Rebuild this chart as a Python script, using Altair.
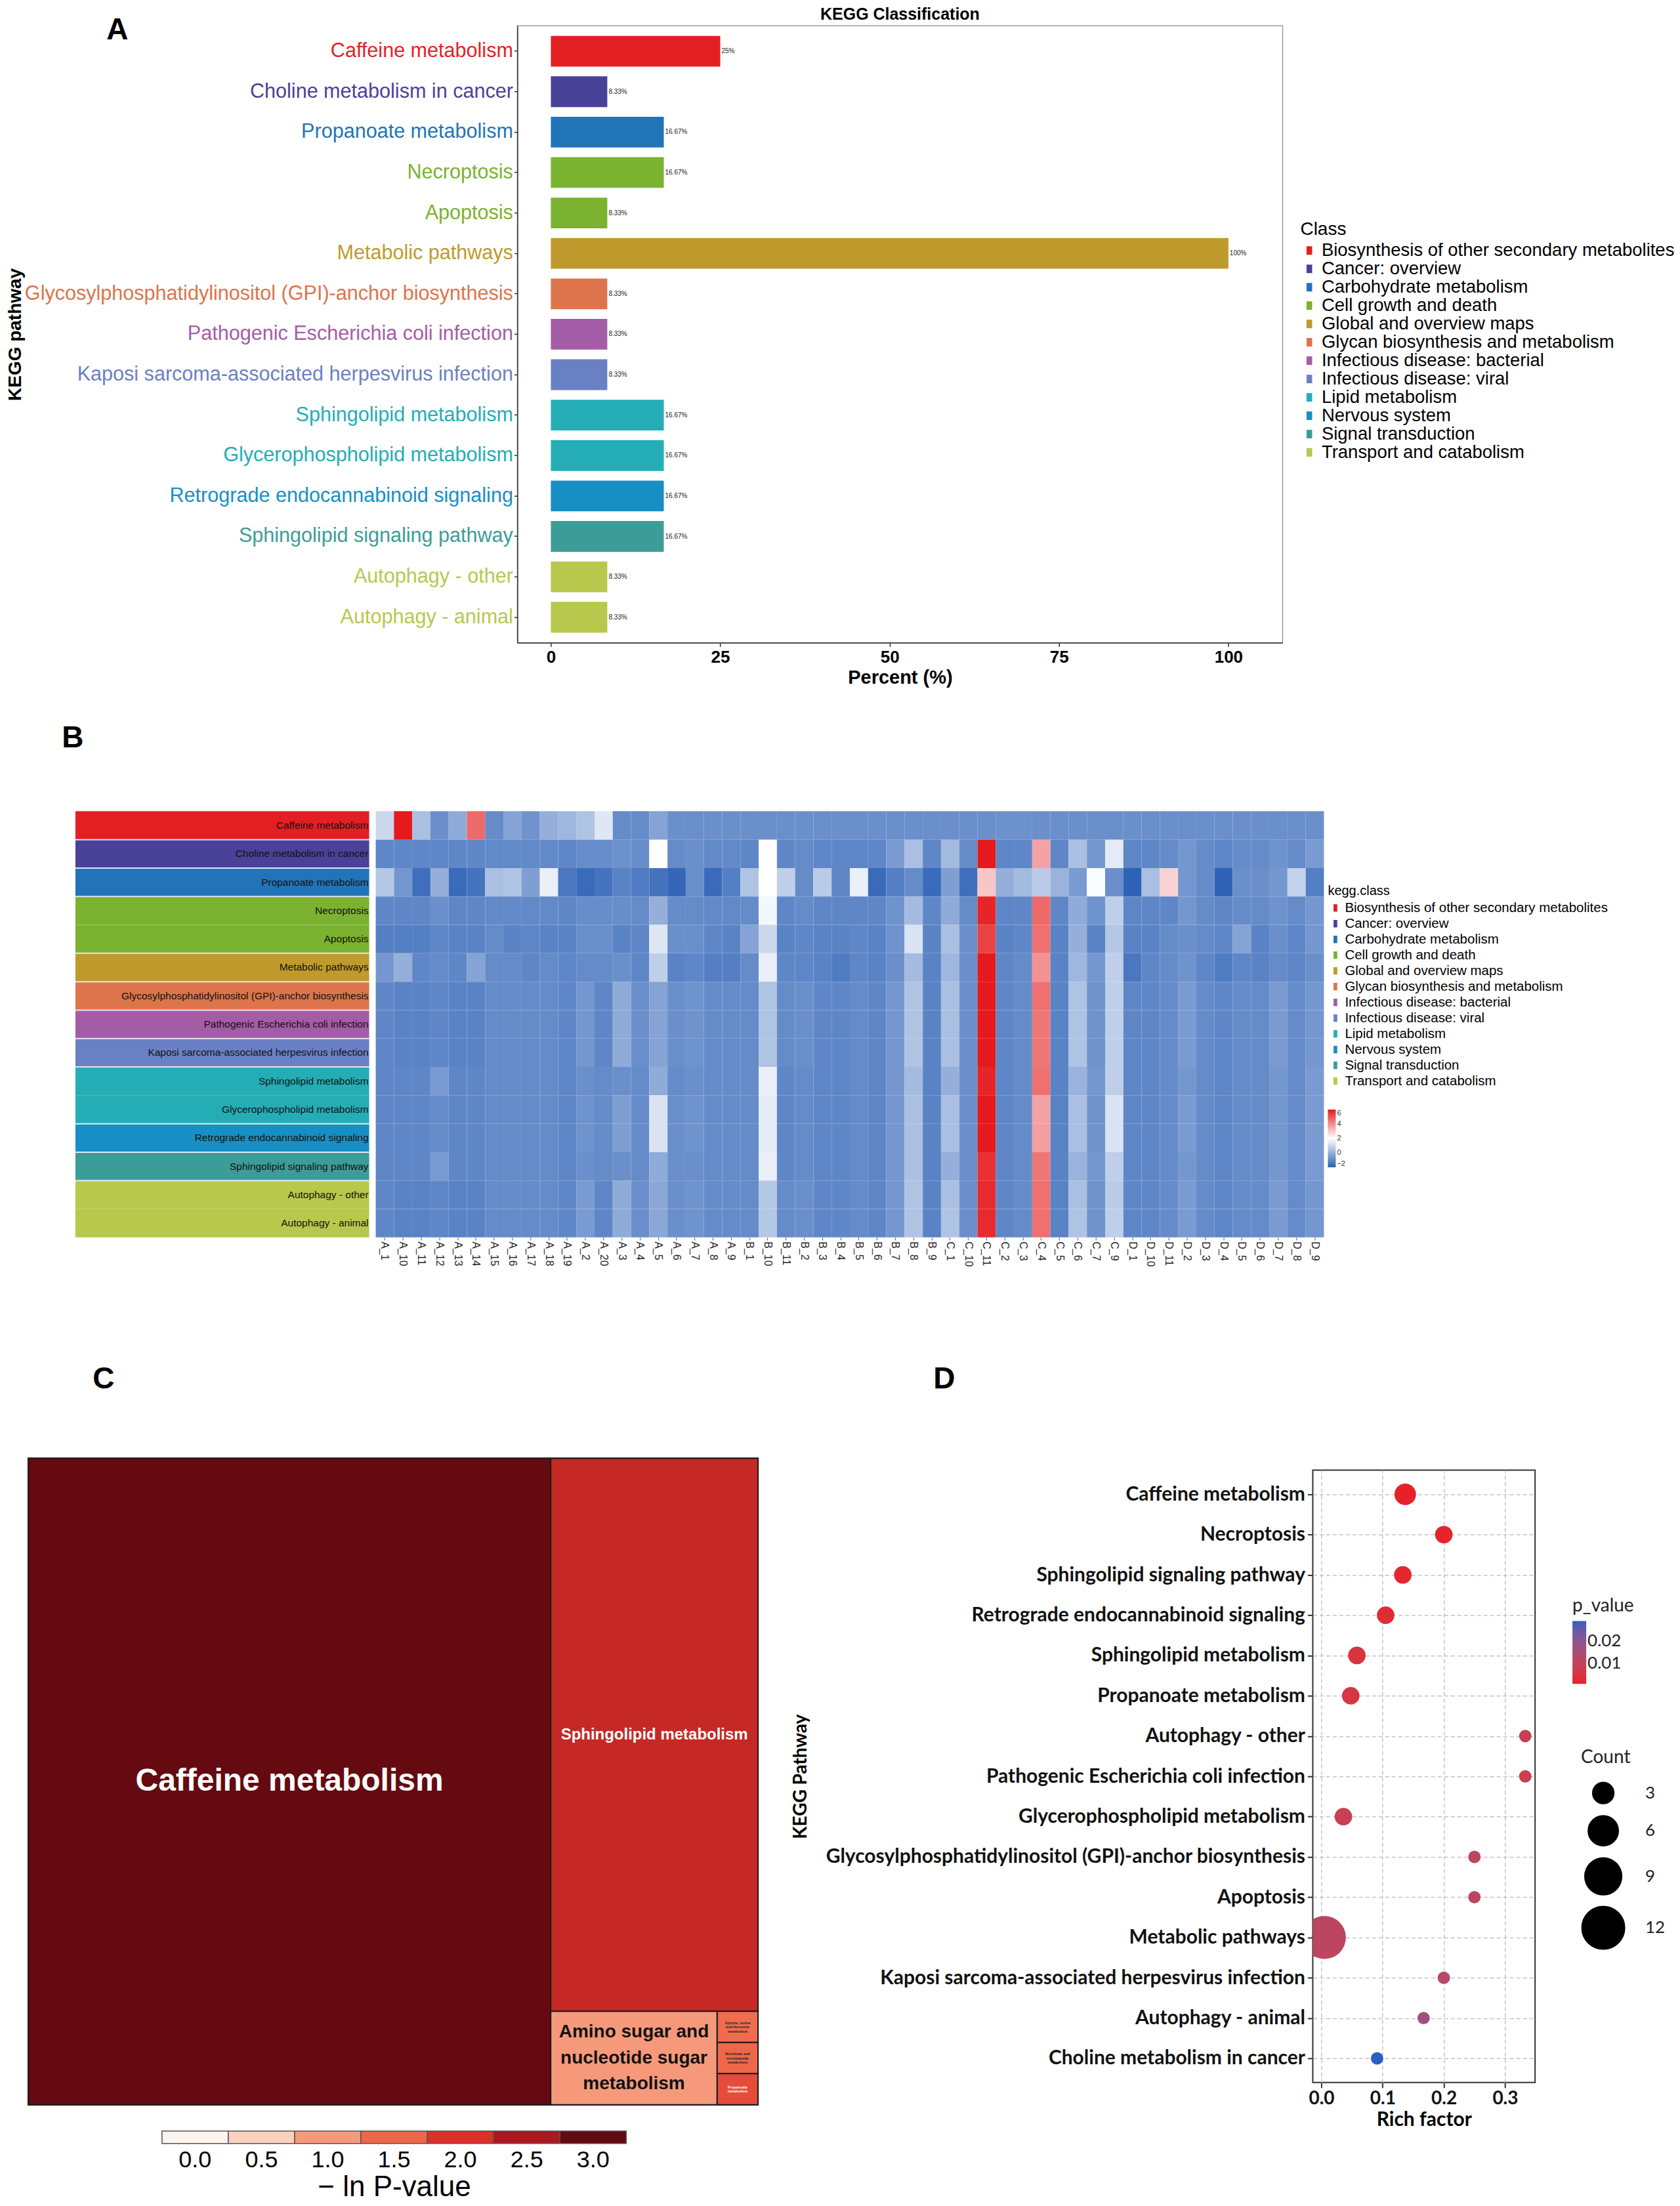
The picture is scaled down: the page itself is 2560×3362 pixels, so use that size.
import altair as alt
import pandas as pd

FONT = "Liberation Sans"
FONT_D = "Lato"

# ---------------- shared pathway data ----------------
pathways = [
    "Caffeine metabolism",
    "Choline metabolism in cancer",
    "Propanoate metabolism",
    "Necroptosis",
    "Apoptosis",
    "Metabolic pathways",
    "Glycosylphosphatidylinositol (GPI)-anchor biosynthesis",
    "Pathogenic Escherichia coli infection",
    "Kaposi sarcoma-associated herpesvirus infection",
    "Sphingolipid metabolism",
    "Glycerophospholipid metabolism",
    "Retrograde endocannabinoid signaling",
    "Sphingolipid signaling pathway",
    "Autophagy - other",
    "Autophagy - animal",
]
pathway_class = [
    "Biosynthesis of other secondary metabolites",
    "Cancer: overview",
    "Carbohydrate metabolism",
    "Cell growth and death",
    "Cell growth and death",
    "Global and overview maps",
    "Glycan biosynthesis and metabolism",
    "Infectious disease: bacterial",
    "Infectious disease: viral",
    "Lipid metabolism",
    "Lipid metabolism",
    "Nervous system",
    "Signal transduction",
    "Transport and catabolism",
    "Transport and catabolism",
]
classes = [
    "Biosynthesis of other secondary metabolites",
    "Cancer: overview",
    "Carbohydrate metabolism",
    "Cell growth and death",
    "Global and overview maps",
    "Glycan biosynthesis and metabolism",
    "Infectious disease: bacterial",
    "Infectious disease: viral",
    "Lipid metabolism",
    "Nervous system",
    "Signal transduction",
    "Transport and catabolism",
]
class_colors = ["#e41f23", "#4a4199", "#2274b8", "#7bb230", "#bf9a2c", "#dd744b",
                "#a55ca6", "#6a80c4", "#25adb5", "#178fc4", "#3c9d98", "#b8c84d"]

# ---------------- Panel A data ----------------
percent = [25, 8.33, 16.67, 16.67, 8.33, 100, 8.33, 8.33, 8.33, 16.67, 16.67, 16.67, 16.67, 8.33, 8.33]
percent_text = ["25%", "8.33%", "16.67%", "16.67%", "8.33%", "100%", "8.33%", "8.33%", "8.33%",
                "16.67%", "16.67%", "16.67%", "16.67%", "8.33%", "8.33%"]
a_ticks = [0, 25, 50, 75, 100]

# ---------------- Panel B data ----------------
samples = ["A_1", "A_10", "A_11", "A_12", "A_13", "A_14", "A_15", "A_16", "A_17", "A_18", "A_19",
           "A_2", "A_20", "A_3", "A_4", "A_5", "A_6", "A_7", "A_8", "A_9",
           "B_1", "B_10", "B_11", "B_2", "B_3", "B_4", "B_5", "B_6", "B_7", "B_8", "B_9",
           "C_1", "C_10", "C_11", "C_2", "C_3", "C_4", "C_5", "C_6", "C_7", "C_9",
           "D_1", "D_10", "D_11", "D_2", "D_3", "D_4", "D_5", "D_6", "D_7", "D_8", "D_9"]

hm_caffeine = [1.0, 6.0, 0.4, -0.8, -0.1, 4.6, -0.9, -0.3, -0.7, 0.0, 0.2, 0.5, 1.4, -0.9, -0.9, -0.3, -0.8, -0.8, -0.8, -0.8,
               -0.8, -0.8, -0.8, -0.8, -0.8, -0.8, -0.8, -0.8, -0.8, -0.8, -0.8,
               -0.8, -0.8, -0.8, -0.75, -0.75, -0.8, -0.8, -0.8, -0.8, -0.8,
               -0.8, -0.8, -0.8, -0.8, -0.8, -0.8, -0.8, -0.8, -0.8, -0.8, -0.8]
hm_choline = [-1.0, -1.0, -1.0, -1.0, -1.0, -1.0, -0.95, -0.95, -0.95, -0.95, -1.0, -0.85, -0.85, -0.75, -0.85, 2.0, -0.9, -0.8, -0.95, -0.95,
              -1.0, 2.0, -1.0, -0.9, -1.0, -1.0, -1.0, -1.0, -0.5, 0.4, -1.0,
              0.3, -0.9, 6.0, -1.0, -1.0, 3.6, -1.0, 0.4, -0.6, 1.5,
              -1.0, -1.0, -0.9, -0.6, -0.9, -1.0, -0.9, -0.9, -0.7, -0.9, -0.5]
hm_propanoate = [0.6, -0.6, -1.6, 0.0, -1.7, -1.5, 0.4, 0.5, -0.4, 1.6, -1.4, -1.7, -1.5, -1.1, -1.3, -1.5, -1.8, -0.8, -1.7, -1.2,
                 0.5, 2.0, 0.8, -0.9, 0.7, -1.0, 1.6, -1.7, -1.2, -0.9, -1.7,
                 -0.4, -1.6, 3.0, 0.0, 0.3, 0.7, 0.1, -0.5, 1.9, -0.8,
                 -1.9, 0.4, 2.8, -0.6, -0.9, -1.9, -0.8, -0.8, -0.6, 0.9, -1.2]
hm_necroptosis = [-1.0, -1.0, -1.0, -0.8, -1.0, -1.0, -0.95, -0.95, -0.95, -0.95, -1.0, -0.85, -0.85, -0.85, -0.9, 0.0, -0.9, -0.9, -0.95, -0.95,
                  -0.9, 1.8, -1.0, -0.9, -1.0, -1.0, -1.0, -1.0, -0.7, 0.3, -1.0,
                  -0.1, -0.9, 5.8, -1.0, -1.0, 4.6, -1.0, -0.1, -0.7, 0.8,
                  -1.0, -1.0, -1.0, -0.6, -0.9, -1.0, -0.9, -0.9, -0.7, -0.9, -0.6]
hm_apoptosis = [-1.2, -1.2, -1.2, -1.0, -1.1, -1.1, -0.9, -1.1, -1.0, -1.1, -1.1, -0.8, -0.8, -1.1, -1.0, 1.4, -0.8, -0.8, -1.0, -1.1,
                -0.3, 1.0, -1.1, -1.0, -1.1, -1.1, -1.0, -1.1, -0.7, 1.3, -1.1,
                0.4, -0.8, 5.3, -1.1, -1.0, 4.5, -1.1, 0.0, -1.1, 0.6,
                -1.1, -1.1, -0.9, -0.8, -0.9, -1.0, -0.3, -1.1, -0.8, -1.0, -0.6]
hm_metabolic = [-0.6, 0.0, -1.0, -0.9, -1.0, -0.3, -0.9, -0.9, -1.0, -0.9, -1.0, -0.9, -0.9, -0.8, -1.0, 0.8, -1.1, -1.0, -1.2, -1.2,
                -0.9, 1.6, -1.0, -1.0, -1.1, -1.3, -1.0, -1.1, -0.8, 0.3, -1.1,
                0.2, -0.8, 6.0, -1.0, -0.9, 3.9, -1.1, 0.2, -0.6, 0.8,
                -1.4, -1.0, -0.9, -0.7, -1.0, -1.3, -1.0, -1.1, -0.9, -1.0, -0.8]
hm_gpi = [-1.0, -1.1, -1.1, -1.0, -1.1, -1.1, -0.9, -0.9, -0.9, -0.9, -1.0, -0.6, -1.0, -0.1, -0.8, -0.3, -0.8, -0.7, -0.9, -0.9,
          -0.9, 0.5, -0.9, -0.8, -1.0, -1.0, -0.9, -1.0, -0.6, 0.5, -1.1,
          0.4, -0.8, 6.0, -1.0, -0.9, 4.5, -1.1, 0.5, -0.7, 0.8,
          -1.0, -1.0, -0.9, -0.5, -0.9, -1.0, -0.9, -0.9, -0.5, -0.9, -0.6]
hm_pathogenic = [-1.0, -1.1, -1.1, -1.0, -1.1, -1.1, -0.9, -0.9, -0.9, -0.9, -1.0, -0.6, -1.0, -0.1, -0.8, -0.3, -0.8, -0.7, -0.9, -0.9,
                 -0.9, 0.5, -0.9, -0.8, -1.0, -1.0, -0.9, -1.0, -0.6, 0.5, -1.1,
                 0.4, -0.8, 6.0, -1.0, -0.9, 4.4, -1.1, 0.5, -0.7, 0.8,
                 -1.0, -1.0, -0.9, -0.5, -0.9, -1.0, -0.9, -0.9, -0.5, -0.9, -0.6]
hm_kaposi = [-1.0, -1.1, -1.1, -1.0, -1.1, -1.1, -0.9, -0.9, -0.9, -0.9, -1.0, -0.6, -1.0, -0.1, -0.8, -0.3, -0.8, -0.7, -0.9, -0.9,
             -0.9, 0.5, -0.9, -0.8, -1.0, -1.0, -0.9, -1.0, -0.6, 0.5, -1.1,
             0.4, -0.8, 6.0, -1.0, -0.9, 4.4, -1.1, 0.5, -0.7, 0.8,
             -1.0, -1.0, -0.9, -0.5, -0.9, -1.0, -0.9, -0.9, -0.5, -0.9, -0.6]
hm_sphingo_met = [-1.0, -1.0, -1.0, -0.5, -1.0, -1.0, -0.9, -0.9, -0.9, -0.9, -1.0, -0.8, -0.9, -0.8, -0.9, -0.1, -0.9, -0.8, -0.9, -0.9,
                  -0.9, 1.6, -1.0, -0.9, -1.0, -1.0, -0.9, -1.0, -0.6, 0.3, -1.1,
                  0.0, -0.8, 5.8, -1.0, -0.9, 4.5, -1.1, 0.1, -0.6, 0.8,
                  -1.0, -1.0, -0.9, -0.6, -0.9, -1.0, -0.9, -0.9, -0.6, -0.9, -0.5]
hm_glycero = [-1.0, -1.0, -1.0, -0.9, -1.0, -1.0, -0.9, -0.9, -0.9, -0.9, -1.0, -0.7, -0.9, -0.4, -0.9, 1.3, -0.8, -0.7, -0.9, -0.9,
              -0.9, 1.5, -1.0, -0.9, -1.0, -1.0, -0.9, -1.0, -0.6, 0.4, -1.1,
              0.4, -0.8, 6.0, -1.0, -0.9, 3.6, -1.1, 0.4, -0.7, 1.3,
              -1.0, -1.0, -0.9, -0.5, -0.9, -1.0, -0.9, -0.9, -0.6, -0.9, -0.5]
hm_retrograde = [-1.0, -1.0, -1.0, -0.9, -1.0, -1.0, -0.9, -0.9, -0.9, -0.9, -1.0, -0.7, -0.9, -0.4, -0.9, 1.3, -0.8, -0.7, -0.9, -0.9,
                 -0.9, 1.5, -1.0, -0.9, -1.0, -1.0, -0.9, -1.0, -0.6, 0.4, -1.1,
                 0.4, -0.8, 6.0, -1.0, -0.9, 3.7, -1.1, 0.4, -0.7, 1.3,
                 -1.0, -1.0, -0.9, -0.5, -0.9, -1.0, -0.9, -0.9, -0.6, -0.9, -0.5]
hm_sphingo_sig = [-1.0, -1.0, -1.0, -0.5, -1.0, -1.0, -0.9, -0.9, -0.9, -0.9, -1.0, -0.8, -0.9, -0.8, -0.9, -0.1, -0.8, -0.8, -0.9, -0.9,
                  -0.9, 1.6, -1.0, -0.9, -1.0, -1.0, -0.9, -1.0, -0.6, 0.4, -1.1,
                  0.0, -0.8, 5.6, -1.0, -0.9, 4.4, -1.1, 0.1, -0.6, 0.8,
                  -1.0, -1.0, -0.9, -0.6, -0.9, -1.0, -0.9, -0.9, -0.6, -0.9, -0.5]
hm_auto_other = [-1.0, -1.1, -1.1, -1.0, -1.1, -1.1, -0.9, -0.9, -0.9, -0.9, -1.0, -0.5, -1.0, -0.1, -0.8, -0.2, -0.8, -0.7, -0.9, -0.9,
                 -0.9, 0.6, -0.9, -0.8, -1.0, -1.0, -0.9, -1.0, -0.6, 0.5, -1.1,
                 0.4, -0.8, 5.7, -1.0, -0.9, 4.5, -1.1, 0.4, -0.7, 0.7,
                 -1.0, -1.0, -0.9, -0.5, -0.9, -1.0, -0.9, -0.9, -0.5, -0.9, -0.6]
hm_auto_animal = [-1.0, -1.1, -1.1, -1.0, -1.1, -1.1, -0.9, -0.9, -0.9, -0.9, -1.0, -0.5, -1.0, -0.1, -0.8, -0.2, -0.8, -0.7, -0.9, -0.9,
                  -0.9, 0.6, -0.9, -0.8, -1.0, -1.0, -0.9, -1.0, -0.6, 0.5, -1.1,
                  0.5, -0.8, 5.7, -1.0, -0.9, 4.5, -1.1, 0.5, -0.7, 0.8,
                  -1.0, -1.0, -0.9, -0.5, -0.9, -1.0, -0.9, -0.9, -0.5, -0.9, -0.6]
heat_rows = [hm_caffeine, hm_choline, hm_propanoate, hm_necroptosis, hm_apoptosis, hm_metabolic,
             hm_gpi, hm_pathogenic, hm_kaposi, hm_sphingo_met, hm_glycero, hm_retrograde,
             hm_sphingo_sig, hm_auto_other, hm_auto_animal]
heat_domain = [-2, 2, 6]
heat_colors = ["#2a5fb5", "#ffffff", "#e41a1c"]

# ---------------- Panel C data ----------------
tm_names = ["Caffeine metabolism", "Sphingolipid metabolism",
            "Amino sugar and nucleotide sugar metabolism",
            "Glycine, serine and threonine metabolism",
            "Nicotinate and nicotinamide metabolism", "Propanoate metabolism"]
tm_labels = ["Caffeine metabolism", "Sphingolipid metabolism",
             "Amino sugar and\nnucleotide sugar\nmetabolism",
             "Glycine, serine\nand threonine\nmetabolism",
             "Nicotinate and\nnicotinamide\nmetabolism", "Propanoate\nmetabolism"]
tm_share = [71.6, 24.3, 3.3, 0.27, 0.27, 0.27]
tm_neglnp = [3.1, 2.2, 1.0, 1.45, 1.5, 1.75]
cb_values = [0.0, 0.5, 1.0, 1.5, 2.0, 2.5, 3.0]
cb_labels = ["0.0", "0.5", "1.0", "1.5", "2.0", "2.5", "3.0"]
reds = ["#fef4ee", "#fdd1c0", "#f6997b", "#ef6749", "#d9322a", "#a9191f", "#640a10"]

# ---------------- Panel D data ----------------
d_pathways = [
    "Caffeine metabolism",
    "Necroptosis",
    "Sphingolipid signaling pathway",
    "Retrograde endocannabinoid signaling",
    "Sphingolipid metabolism",
    "Propanoate metabolism",
    "Autophagy - other",
    "Pathogenic Escherichia coli infection",
    "Glycerophospholipid metabolism",
    "Glycosylphosphatidylinositol (GPI)-anchor biosynthesis",
    "Apoptosis",
    "Metabolic pathways",
    "Kaposi sarcoma-associated herpesvirus infection",
    "Autophagy - animal",
    "Choline metabolism in cancer",
]
d_rich = [0.137, 0.2, 0.133, 0.105, 0.058, 0.048, 0.333, 0.333, 0.036, 0.25, 0.25, 0.005, 0.2, 0.167, 0.091]
d_count = [3, 2, 2, 2, 2, 2, 1, 1, 2, 1, 1, 12, 1, 1, 1]
d_pvalue = [0.0008, 0.0015, 0.002, 0.0028, 0.0045, 0.005, 0.0078, 0.0078, 0.0085, 0.0105, 0.0105,
            0.011, 0.0125, 0.0165, 0.029]
d_ticks = [0.0, 0.1, 0.2, 0.3]

# ======================================================================
RECT_A = "M-0.33,-0.5H0.33V0.5H-0.33Z"
RECT_B = "M-0.25,-0.5H0.25V0.5H-0.25Z"
class_scale = alt.Scale(domain=classes, range=class_colors)


def letter(t, x, y):
    return alt.Chart(pd.DataFrame({"t": [t]})).mark_text(
        fontSize=46, fontWeight="bold", font=FONT, color="black", baseline="middle"
    ).encode(x=alt.value(x), y=alt.value(y), text="t:N")


def spacer(w, h=1):
    return alt.Chart(pd.DataFrame({"s": [" "]})).mark_text(opacity=0, fontSize=1).encode(
        x=alt.value(0), y=alt.value(0), text="s:N").properties(
        width=w, height=h, view=alt.ViewBackground(stroke="transparent"))


# ---------------- Panel A ----------------
dfA = pd.DataFrame({"pathway": pathways, "cls": pathway_class, "pct": percent, "txt": percent_text})
color_of = {c: col for c, col in zip(classes, class_colors)}
label_color_expr = "".join(
    f"datum.label === '{p}' ? '{color_of[c]}' : " for p, c in zip(pathways, pathway_class)
) + "'black'"

yA = alt.Y("pathway:N", sort=pathways,
           scale=alt.Scale(paddingInner=0.24, paddingOuter=0.25),
           axis=alt.Axis(title="KEGG pathway", titleFont=FONT, titleFontSize=28, titleFontWeight="bold",
                         titleColor="black", labelFont=FONT, labelFontSize=30.6,
                         labelColor={"expr": label_color_expr}, labelLimit=0, labelOverlap=False,
                         labelPadding=2, tickSize=5, tickColor="#333", tickWidth=1.5,
                         domainColor="#333", domainWidth=1.5, minExtent=745, maxExtent=745,
                         titlePadding=6))
xA = alt.X("pct:Q", scale=alt.Scale(domain=[-4.94, 108], nice=False, zero=True),
           axis=alt.Axis(values=a_ticks, title="Percent (%)", titleFont=FONT, titleFontSize=29,
                         titleFontWeight="bold", titleColor="black", labelFont=FONT, labelFontSize=26,
                         labelFontWeight="bold", labelColor="black", tickSize=6, tickColor="#333",
                         tickWidth=1.5, domainColor="#333", domainWidth=1.5, labelPadding=3,
                         titlePadding=4, grid=False))
# This legend is lifted to the top-level view (shared colour scale), whose origin
# is the page's left edge at the height of panel A's plot top.
barsA = alt.Chart(dfA).mark_bar().encode(
    y=yA, x=xA,
    color=alt.Color("cls:N", scale=class_scale,
                    legend=alt.Legend(title="Class", orient="none", legendX=1975, legendY=297,
                                      titleFont=FONT, titleFontSize=28, titleFontWeight="normal",
                                      titleColor="black", labelFont=FONT, labelFontSize=27.5,
                                      labelColor="black", labelLimit=0, symbolType=RECT_A,
                                      symbolSize=676, symbolStrokeWidth=0, rowPadding=-3.5,
                                      labelOffset=5, titlePadding=4)),
)
textA = alt.Chart(dfA).mark_text(align="left", baseline="middle", dx=2, fontSize=10, font=FONT,
                                 color="#222").encode(y=yA, x=xA, text="txt:N")
chartA = alt.layer(barsA, textA, letter("A", -610, 7)).properties(
    width=1167, height=941,
    title=alt.TitleParams("KEGG Classification", font=FONT, fontSize=25, fontWeight="bold",
                          color="black", anchor="middle", offset=-12),
    view=alt.ViewBackground(stroke="#999", strokeWidth=1.5),
)
rowA = alt.hconcat(spacer(1), chartA, spacing=0)

# ---------------- Panel B ----------------
rows_long = []
for p, vals in zip(pathways, heat_rows):
    assert len(vals) == len(samples)
    for s, v in zip(samples, vals):
        rows_long.append({"pathway": p, "sample": s, "value": v})
dfH = pd.DataFrame(rows_long)

yB = alt.Y("pathway:N", sort=pathways, scale=alt.Scale(paddingInner=0, paddingOuter=0), axis=None)
heat = alt.Chart(dfH).mark_rect().encode(
    x=alt.X("sample:N", sort=samples, scale=alt.Scale(paddingInner=0, paddingOuter=0),
            axis=alt.Axis(title=None, labelAngle=90, labelFont=FONT, labelFontSize=16,
                          labelColor="#222", tickSize=4, tickColor="#555", domain=False,
                          labelPadding=2, labelOverlap=False)),
    y=yB,
    color=alt.Color("value:Q", scale=alt.Scale(domain=heat_domain, range=heat_colors, interpolate="rgb"),
                    legend=alt.Legend(orient="none", legendX=1452, legendY=455, title=None,
                                      gradientLength=88, gradientThickness=12, labelFontSize=11,
                                      labelFont=FONT, labelColor="#333", values=[-2, 0, 2, 4, 6],
                                      direction="vertical")),
)
cls_key = alt.Chart(dfA).mark_point(opacity=0, filled=True).encode(
    y=yB,
    color=alt.Color("cls:N", scale=class_scale,
                    legend=alt.Legend(title="kegg.class", orient="none", legendX=1452, legendY=112,
                                      titleFont=FONT, titleFontSize=20, titleFontWeight="normal",
                                      titleColor="black", labelFont=FONT, labelFontSize=20.5,
                                      labelColor="black", labelLimit=0, symbolType=RECT_B,
                                      symbolSize=520, symbolOpacity=1, symbolStrokeWidth=0,
                                      rowPadding=2, labelOffset=3, titlePadding=4)),
)
heat_layer = alt.layer(heat, cls_key).resolve_scale(color="independent").resolve_legend(
    color="independent").properties(width=1446, height=650,
                                     view=alt.ViewBackground(stroke="transparent"))

first_flag = [i > 0 and pathway_class[i] != pathway_class[i - 1] for i in range(len(pathways))]
dfAnn = pd.DataFrame({"pathway": pathways, "cls": pathway_class, "newclass": first_flag})
ann_rect = alt.Chart(dfAnn).mark_rect().encode(
    y=yB, color=alt.Color("cls:N", scale=class_scale, legend=None))
ann_sep = alt.Chart(dfAnn).transform_filter("datum.newclass").mark_rule(
    color="#e6e6f0", strokeWidth=2).encode(
    y=alt.Y("pathway:N", sort=pathways, bandPosition=0,
            scale=alt.Scale(paddingInner=0, paddingOuter=0), axis=None))
ann_text = alt.Chart(dfAnn).mark_text(align="right", baseline="middle", fontSize=15.5,
                                      font=FONT, color="#111").encode(
    y=yB, x=alt.value(447), text="pathway:N")
annot = alt.layer(ann_rect, ann_sep, ann_text, letter("B", -4, -111)).properties(
    width=448, height=650, view=alt.ViewBackground(stroke="transparent"))

rowB = alt.hconcat(spacer(77), annot, heat_layer, spacing=9)

# ---------------- Panel C (treemap) ----------------
TM_W, TM_H = 1113, 986


def squarify(values, x, y, w, h):
    out = []
    vals = list(values)

    def worst(r, s):
        tot = sum(r)
        return max(max(s * s * v / (tot * tot), tot * tot / (s * s * v)) for v in r)

    while vals:
        short = min(w, h)
        row = [vals[0]]
        i = 1
        while i < len(vals) and worst(row + [vals[i]], short) <= worst(row, short):
            row.append(vals[i])
            i += 1
        tot = sum(row)
        if w >= h:
            cw = tot / h
            cy = y
            for v in row:
                ch = v / cw
                out.append((x, cy, x + cw, cy + ch))
                cy += ch
            x += cw
            w -= cw
        else:
            rh = tot / w
            cx = x
            for v in row:
                cw2 = v / rh
                out.append((cx, y, cx + cw2, y + rh))
                cx += cw2
            y += rh
            h -= rh
        vals = vals[i:]
    return out


total = sum(tm_share)
areas = [s / total * TM_W * TM_H for s in tm_share]
rects = squarify(areas, 0.0, 0.0, float(TM_W), float(TM_H))
dfT = pd.DataFrame({
    "name": tm_names, "label": tm_labels, "v": tm_neglnp,
    "x0": [r[0] for r in rects], "y0": [r[1] for r in rects],
    "x1": [r[2] for r in rects], "y1": [r[3] for r in rects],
})
dfT["cx"] = (dfT["x0"] + dfT["x1"]) / 2
dfT["cy"] = (dfT["y0"] + dfT["y1"]) / 2

red_scale = alt.Scale(domain=cb_values, range=reds, clamp=True, interpolate="rgb")
sx = alt.Scale(domain=[0, TM_W], nice=False, zero=False)
sy = alt.Scale(domain=[0, TM_H], nice=False, zero=False, reverse=True)
tm_rect = alt.Chart(dfT).mark_rect(stroke="#1a1a1a", strokeWidth=2).encode(
    x=alt.X("x0:Q", scale=sx, axis=None), x2="x1:Q",
    y=alt.Y("y0:Q", scale=sy, axis=None), y2="y1:Q",
    fill=alt.Fill("v:Q", scale=red_scale, legend=None))


def tm_text(names, size, color, lh, nlines):
    kw = dict(fontSize=size, fontWeight="bold", font=FONT, color=color, align="center",
              baseline="middle", lineBreak="\n", lineHeight=lh)
    if nlines > 1:
        kw["dy"] = -lh * (nlines - 1) / 2
    return alt.Chart(dfT).transform_filter(
        alt.FieldOneOfPredicate(field="name", oneOf=names)).mark_text(**kw).encode(
        x=alt.X("cx:Q", scale=sx, axis=None),
        y=alt.Y("cy:Q", scale=sy, axis=None),
        text="label:N")


treemap = alt.layer(
    tm_rect,
    tm_text([tm_names[0]], 48, "white", 50, 1),
    tm_text([tm_names[1]], 24, "white", 26, 1),
    tm_text([tm_names[2]], 28, "#111", 40, 3),
    tm_text([tm_names[3], tm_names[4]], 5.5, "#222", 6.5, 3),
    tm_text([tm_names[5]], 5.5, "white", 6.5, 2),
    letter("C", 115, -121),
).properties(width=TM_W, height=TM_H, view=alt.ViewBackground(stroke="#1a1a1a", strokeWidth=2))

dfCB = pd.DataFrame({"lab": cb_labels, "v": cb_values})
colorbar = alt.Chart(dfCB).mark_rect(stroke="#555", strokeWidth=1.5).encode(
    x=alt.X("lab:N", sort=cb_labels, scale=alt.Scale(paddingInner=0, paddingOuter=0),
            axis=alt.Axis(title="− ln P-value", labelAngle=0, ticks=False, domain=False,
                          labelFont=FONT, labelFontSize=36, labelColor="black",
                          titleFont=FONT, titleFontSize=44, titleFontWeight="normal",
                          titleColor="black", labelPadding=8, titlePadding=2)),
    fill=alt.Fill("v:Q", scale=red_scale, legend=None),
).properties(width=708, height=19, view=alt.ViewBackground(stroke="transparent"))

tmRow = alt.hconcat(spacer(33), treemap, spacing=0)
cbRow = alt.hconcat(spacer(238), colorbar, spacing=0)
colC = alt.vconcat(spacer(1), tmRow, cbRow, spacing=37)

# ---------------- Panel D ----------------
dfD = pd.DataFrame({"pathway": d_pathways, "rich": d_rich, "count": d_count, "p": d_pvalue})
grid_kw = dict(grid=True, gridDash=[6, 4], gridColor="#c4c4c4", gridWidth=1.5)
yD = alt.Y("pathway:N", sort=d_pathways, scale=alt.Scale(padding=0.6),
           axis=alt.Axis(title="KEGG Pathway", titleFont=FONT_D, titleFontSize=28,
                         titleFontWeight="bold", titleColor="black", labelFont=FONT_D,
                         labelFontSize=30, labelFontWeight="bold", labelColor="#111", labelLimit=0,
                         labelOverlap=False, tickSize=8, tickWidth=2, tickColor="#333",
                         labelPadding=4, domain=False, minExtent=757, maxExtent=757,
                         titlePadding=10, **grid_kw))
xD = alt.X("rich:Q", scale=alt.Scale(domain=[-0.014, 0.349], nice=False, zero=False),
           axis=alt.Axis(values=d_ticks, format=".1f", title="Rich factor", titleFont=FONT_D,
                         titleFontSize=30, titleFontWeight="bold", titleColor="black",
                         labelFont=FONT_D, labelFontSize=28, labelFontWeight="bold",
                         labelColor="#111", tickSize=8, tickWidth=2, tickColor="#333",
                         labelPadding=3, titlePadding=3, domain=False, **grid_kw))
# size legend ends up in the top-level view; colour legend in the C/D row view
ptsD = alt.Chart(dfD).mark_circle(opacity=1, clip=True).encode(
    x=xD, y=yD,
    size=alt.Size("count:Q", scale=alt.Scale(domain=[0, 12], range=[0, 4300]),
                  legend=alt.Legend(title="Count", values=[3, 6, 9, 12], orient="none",
                                    legendX=2403, legendY=2628, symbolFillColor="black",
                                    symbolStrokeColor="black", symbolType="circle",
                                    titleFont=FONT_D, titleFontSize=28, titleFontWeight="normal",
                                    titleColor="#222", labelFont=FONT_D, labelFontSize=26,
                                    labelColor="#222", rowPadding=11, labelOffset=30,
                                    titlePadding=22)),
    color=alt.Color("p:Q", scale=alt.Scale(range=["#e8202a", "#2c5fbf"], interpolate="lab"),
                    legend=alt.Legend(title="p_value", values=[0.01, 0.02], format=".2f",
                                      orient="none", legendX=2390, legendY=395,
                                      gradientLength=96, gradientThickness=21,
                                      titleFont=FONT_D, titleFontSize=28, titleFontWeight="normal",
                                      titleColor="#222", labelFont=FONT_D, labelFontSize=26,
                                      labelColor="#222", titlePadding=8, direction="vertical")),
)
chartD = alt.layer(ptsD, letter("D", -562, -139)).properties(
    width=339, height=934, view=alt.ViewBackground(stroke="#333", strokeWidth=2))

dRow = alt.hconcat(spacer(37), chartD, spacing=0)
colD = alt.vconcat(spacer(1), dRow, spacing=37)

rowCD = alt.hconcat(colC, colD, spacing=10)

lower = alt.vconcat(rowB, rowCD, spacing=108)
final = alt.vconcat(rowA, lower, spacing=54).properties(
    padding=0, background="white").configure(font=FONT).configure_view(strokeWidth=0)

final.save("out.html", embed_options={"renderer": "svg", "actions": False})
